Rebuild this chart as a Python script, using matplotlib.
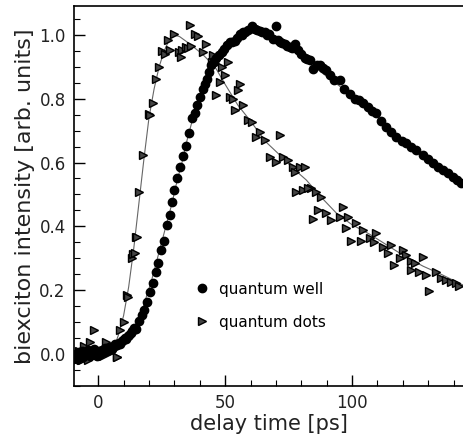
import matplotlib
matplotlib.use("Agg")
import matplotlib.pyplot as plt
from matplotlib.ticker import MultipleLocator

# ---------- data ----------
# quantum well (circles)
qw_t = [-9.3, -8.8, -8.2, -7.6, -7.0, -6.4, -5.8, -5.2, -4.6, -4.0, -3.4, -2.8, -2.2,
        -1.6, -1.0, -0.4, 0.2, 0.8, 1.4, 2.0, 2.6, 3.2, 3.8, 4.4, 5.0, 5.6, 6.2, 6.8,
        7.4, 8.0, 8.6, 9.2, 9.8, 10.4, 11.0, 11.6, 12.2, 12.8, 13.4, 14.0, 14.8, 16.1,
        17.2, 18.1, 19.1, 20.4, 21.7, 22.7, 23.7, 24.8, 26.0, 27.0, 28.1, 29.0, 30.0,
        31.2, 32.2, 33.4, 34.7, 35.8, 37.1, 38.1, 39.0, 40.1, 41.1, 42.0, 42.9, 43.6,
        44.5, 45.6, 46.6, 47.5, 48.8, 49.7, 50.6, 51.9, 52.8, 53.8, 54.8, 55.8, 56.5,
        57.1, 58.0, 59.1, 60.4, 61.7, 62.5, 63.7, 64.6, 65.6, 66.5, 67.3, 68.9, 70.2,
        70.8, 71.5, 72.5, 73.5, 74.5, 75.4, 76.4, 77.4, 78.7, 80.0, 81.3, 82.3, 83.3,
        84.6, 86.0, 87.2, 88.5, 89.9, 91.2, 93.0, 95.1, 97.0, 99.0, 101.0, 102.9, 104.5,
        106.2, 108.0, 109.5, 111.5, 113.4, 115.5, 117.4, 119.5, 121.3, 123.2, 125.2,
        127.8, 129.8, 131.7, 133.7, 135.7, 137.6, 139.6, 141.2, 142.9]
qw_i = [-0.010, 0.000, -0.015, 0.005, -0.005, 0.010, -0.010, 0.005, 0.000, 0.012,
        -0.005, 0.008, 0.000, 0.015, 0.005, -0.005, 0.010, 0.000, 0.012, 0.005, 0.018,
        0.010, 0.020, 0.012, 0.022, 0.015, 0.025, 0.030, 0.028, 0.035, 0.032, 0.040,
        0.045, 0.050, 0.048, 0.055, 0.060, 0.065, 0.072, 0.080, 0.078, 0.102, 0.123,
        0.138, 0.164, 0.193, 0.222, 0.256, 0.285, 0.326, 0.355, 0.404, 0.436, 0.477,
        0.514, 0.550, 0.585, 0.620, 0.651, 0.693, 0.738, 0.755, 0.780, 0.806, 0.829,
        0.845, 0.863, 0.884, 0.905, 0.915, 0.926, 0.936, 0.946, 0.955, 0.967, 0.977,
        0.978, 0.981, 0.990, 1.004, 1.000, 1.009, 1.010, 1.014, 1.027, 1.019, 1.015,
        1.012, 1.010, 1.009, 1.000, 1.004, 0.988, 1.027, 0.985, 0.977, 0.975, 0.972,
        0.965, 0.962, 0.960, 0.972, 0.952, 0.940, 0.926, 0.925, 0.920, 0.894, 0.905,
        0.905, 0.895, 0.889, 0.873, 0.860, 0.858, 0.830, 0.816, 0.800, 0.795, 0.785,
        0.774, 0.760, 0.754, 0.730, 0.712, 0.695, 0.680, 0.668, 0.660, 0.648, 0.639,
        0.623, 0.610, 0.597, 0.585, 0.576, 0.566, 0.555, 0.545, 0.535]

# quantum dots (triangles)
qd_t = [-9.4, -8.6, -7.5, -6.8, -6.2, -5.5, -4.8, -4.2, -3.1, -2.4, -1.8, -1.0, 0.2,
        1.0, 1.7, 3.0, 4.0, 5.2, 6.3, 7.3, 7.6, 8.5, 10.2, 11.5, 11.9, 13.2, 13.9, 14.4,
        14.8, 15.2, 16.1, 17.8, 20.0, 20.5, 21.7, 22.7, 24.0, 25.3, 26.2, 27.5, 28.3,
        29.9, 31.8, 32.5, 33.1, 34.5, 35.2, 36.4, 36.1, 38.1, 39.4, 42.4, 41.1, 45.3,
        44.7, 48.6, 51.2, 49.9, 47.9, 46.6, 55.8, 55.1, 51.9, 53.2, 57.1, 53.8, 59.1,
        60.4, 63.7, 62.3, 65.6, 71.5, 67.6, 70.2, 72.8, 74.8, 76.7, 79.4, 81.3, 77.4,
        78.1, 80.7, 84.0, 82.6, 85.9, 87.9, 86.6, 84.6, 89.9, 91.8, 96.4, 95.1, 98.4,
        97.7, 101.6, 104.2, 99.6, 103.6, 106.9, 109.5, 108.8, 112.1, 115.4, 114.0,
        116.7, 119.9, 121.3, 118.7, 123.3, 124.6, 127.8, 123.3, 126.5, 129.1, 133.0,
        135.0, 137.0, 139.0, 140.9, 142.2, 130.5]
qd_i = [-0.023, -0.010, 0.008, -0.020, -0.018, 0.024, 0.000, -0.018, 0.039, 0.010,
        0.076, 0.005, 0.000, 0.010, -0.005, 0.039, 0.010, 0.005, 0.020, -0.008, -0.009,
        0.076, 0.099, 0.185, 0.180, 0.300, 0.314, 0.316, 0.366, 0.366, 0.508, 0.623,
        0.751, 0.750, 0.787, 0.863, 0.899, 0.949, 0.940, 0.983, 0.954, 1.002, 0.946,
        0.931, 0.952, 0.962, 0.958, 0.964, 1.030, 1.004, 0.995, 0.972, 0.946, 0.936,
        0.915, 0.899, 0.915, 0.873, 0.852, 0.811, 0.847, 0.826, 0.806, 0.800, 0.780,
        0.764, 0.733, 0.727, 0.696, 0.680, 0.670, 0.686, 0.618, 0.602, 0.618, 0.608,
        0.587, 0.587, 0.587, 0.571, 0.508, 0.514, 0.519, 0.519, 0.508, 0.493, 0.451,
        0.422, 0.441, 0.420, 0.460, 0.430, 0.430, 0.394, 0.410, 0.389, 0.355, 0.355,
        0.363, 0.378, 0.352, 0.336, 0.342, 0.316, 0.279, 0.326, 0.311, 0.300, 0.290,
        0.285, 0.305, 0.264, 0.258, 0.248, 0.258, 0.238, 0.232, 0.227, 0.222, 0.214,
        0.196]

# fitted curves (thin grey lines)
qw_fit_t = [-9.5, 3, 6, 9, 11, 13, 15, 17, 19, 21, 23, 25, 27, 29, 31, 33, 35, 37, 39,
            41, 43, 45, 48, 52, 56, 60, 64, 68, 72, 76, 80, 85, 90, 95, 100, 105, 110,
            115, 120, 125, 130, 135, 140, 144]
qw_fit_i = [0.0, -0.005, 0.003, 0.02, 0.035, 0.062, 0.09, 0.13, 0.18, 0.23, 0.29, 0.35,
            0.41, 0.47, 0.54, 0.60, 0.67, 0.73, 0.78, 0.83, 0.87, 0.91, 0.94, 0.975,
            0.995, 1.005, 1.005, 0.99, 0.975, 0.955, 0.93, 0.90, 0.87, 0.84, 0.80,
            0.775, 0.745, 0.70, 0.665, 0.635, 0.605, 0.575, 0.55, 0.53]
qd_fit_t = [-9.5, 0, 4, 6, 8, 10, 12, 14, 16, 18, 20, 22, 24, 26, 28, 29.5, 32, 36, 41,
            46, 50, 55, 60, 66, 72, 77, 82, 88, 94, 100, 107, 114, 121, 128, 135, 144]
qd_fit_i = [0.0, 0.0, 0.003, 0.015, 0.06, 0.12, 0.21, 0.33, 0.47, 0.61, 0.74, 0.83,
            0.90, 0.95, 0.985, 1.0, 0.995, 0.972, 0.94, 0.90, 0.845, 0.78, 0.73, 0.665,
            0.62, 0.58, 0.545, 0.49, 0.44, 0.405, 0.375, 0.34, 0.305, 0.275, 0.25, 0.215]

# ---------- figure ----------
fig = plt.figure(figsize=(4.63, 4.40), dpi=100)
ax = fig.add_axes([0.160, 0.123, 0.840, 0.863])

ax.plot(qw_fit_t, qw_fit_i, color="#666666", lw=0.8, zorder=1)
ax.plot(qd_fit_t, qd_fit_i, color="#666666", lw=0.8, zorder=1)
ax.plot(qw_t, qw_i, "o", ms=6, mfc="black", mec="black", ls="none",
        label="quantum well", zorder=3)
ax.plot(qd_t, qd_i, ">", ms=5.5, mfc="#444444", mec="black", mew=1.0, ls="none",
        label="quantum dots", zorder=2)

ax.set_xlim(-9.5, 143.7)
ax.set_ylim(-0.1, 1.09)

ax.xaxis.set_major_locator(MultipleLocator(50))
ax.xaxis.set_minor_locator(MultipleLocator(10))
ax.yaxis.set_major_locator(MultipleLocator(0.2))
ax.yaxis.set_minor_locator(MultipleLocator(0.05))
ax.yaxis.set_major_formatter(matplotlib.ticker.FormatStrFormatter("%.1f"))

ax.tick_params(which="both", direction="in", top=False, right=False,
               labelsize=12, labelcolor="#222222", pad=6)
ax.tick_params(which="major", length=8, width=1.0)
ax.tick_params(which="minor", length=4, width=0.8)

for s in ["left", "bottom", "top"]:
    ax.spines[s].set_linewidth(1.2)
ax.spines["right"].set_visible(False)

ax.set_xlabel("delay time [ps]", fontsize=15, color="#222222", labelpad=1)
ax.set_ylabel("biexciton intensity [arb. units]", fontsize=16, color="#222222",
              labelpad=3)

ax.legend(loc="upper left", bbox_to_anchor=(0.29, 0.295), frameon=False,
          fontsize=11, handletextpad=0.6, labelspacing=1.2, handlelength=1.0,
          borderpad=0)

fig.savefig("out.png", dpi=100)
